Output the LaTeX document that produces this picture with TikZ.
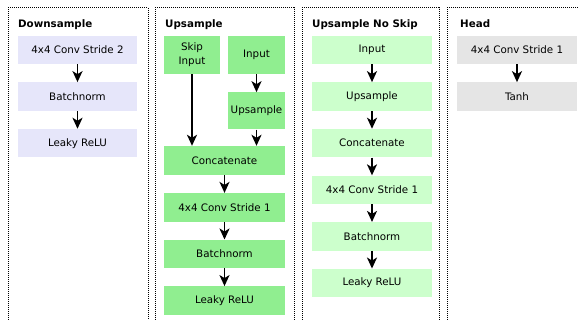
\documentclass[tikz,border=0pt]{standalone}
\usepackage{fontspec}
\setmainfont{DejaVu Sans}
\usepackage{xcolor}
\usetikzlibrary{positioning,arrows.meta}

\definecolor{downfill}{RGB}{230,230,250}
\definecolor{upfill}{RGB}{144,238,144}
\definecolor{noskipfill}{RGB}{204,255,204}
\definecolor{headfill}{RGB}{229,229,229}

\begin{document}
\begin{tikzpicture}[x=1pt, y=1pt, node distance=17.7pt, >={Stealth[length=11pt, width=10pt, inset=3pt]}, box/.style={rectangle, minimum width=120pt, minimum height=28.5pt, inner sep=0pt, align=center, font=\fontsize{10.3}{14}\selectfont}, title/.style={anchor=base west, inner sep=0pt, font=\fontsize{10.3}{12}\selectfont\bfseries}, frame/.style={line width=1pt, dash pattern=on 1pt off 1pt}, every edge/.append style={->, line width=1.8pt}]

\useasboundingbox (0,0) rectangle (578,-320);
\clip (0,0) rectangle (578,-320);

% Downsample
\draw[frame] (8,-330) |- (148,-8) -- (148,-330);
\node[title] at (18,-27.5) {Downsample};
\node[box, fill=downfill, minimum width=119pt] (d1) at (77.5,-50) {4x4 Conv Stride 2};
\node[box, fill=downfill, minimum width=119pt, below=of d1] (d2) {Batchnorm};
\node[box, fill=downfill, minimum width=119pt, below=of d2] (d3) {Leaky ReLU};

\path
 (d1) edge (d2)
 (d2) edge (d3);

% Upsample
\draw[frame] (155,-330) |- (294,-8) -- (294,-330);
\node[title] at (165,-27.5) {Upsample};
\node[box, fill=upfill, minimum width=56pt, minimum height=38pt] (skip) at (192,-55) {Skip\\Input};
\node[box, fill=upfill, minimum width=57pt, minimum height=38pt] (uin) at (256.5,-55) {Input};
\node[box, fill=upfill, minimum width=57pt, minimum height=37pt, below=18pt of uin] (uup) {Upsample};
\node[box, fill=upfill, minimum width=121pt, minimum height=29pt] (ucat) at (224.5,-160.5) {Concatenate};
\node[box, fill=upfill, minimum width=121pt, below=of ucat] (uconv) {4x4 Conv Stride 1};
\node[box, fill=upfill, minimum width=121pt, below=of uconv] (ubn) {Batchnorm};
\node[box, fill=upfill, minimum width=121pt, below=of ubn] (urelu) {Leaky ReLU};

\path
 (skip) edge (skip |- ucat.north)
 (uin) edge (uup)
 (uup) edge (uup |- ucat.north)
 (ucat) edge (uconv)
 (uconv) edge (ubn)
 (ubn) edge (urelu);

% Upsample without skip connection
\draw[frame] (302,-330) |- (439,-8) -- (439,-330);
\node[title] at (312,-27.5) {Upsample No Skip};
\node[box, fill=noskipfill] (n1) at (372,-50) {Input};
\node[box, fill=noskipfill, below=of n1] (n2) {Upsample};
\node[box, fill=noskipfill, below=of n2] (n3) {Concatenate};
\node[box, fill=noskipfill, below=of n3] (n4) {4x4 Conv Stride 1};
\node[box, fill=noskipfill, below=of n4] (n5) {Batchnorm};
\node[box, fill=noskipfill, below=of n5] (n6) {Leaky ReLU};

\path
 (n1) edge (n2)
 (n2) edge (n3)
 (n3) edge (n4)
 (n4) edge (n5)
 (n5) edge (n6);

% Head
\draw[frame] (447,-330) |- (590,-8);
\node[title] at (460,-27.5) {Head};
\node[box, fill=headfill] (h1) at (517,-50) {4x4 Conv Stride 1};
\node[box, fill=headfill, below=of h1] (h2) {Tanh};

\path (h1) edge (h2);
\end{tikzpicture}
\end{document}
